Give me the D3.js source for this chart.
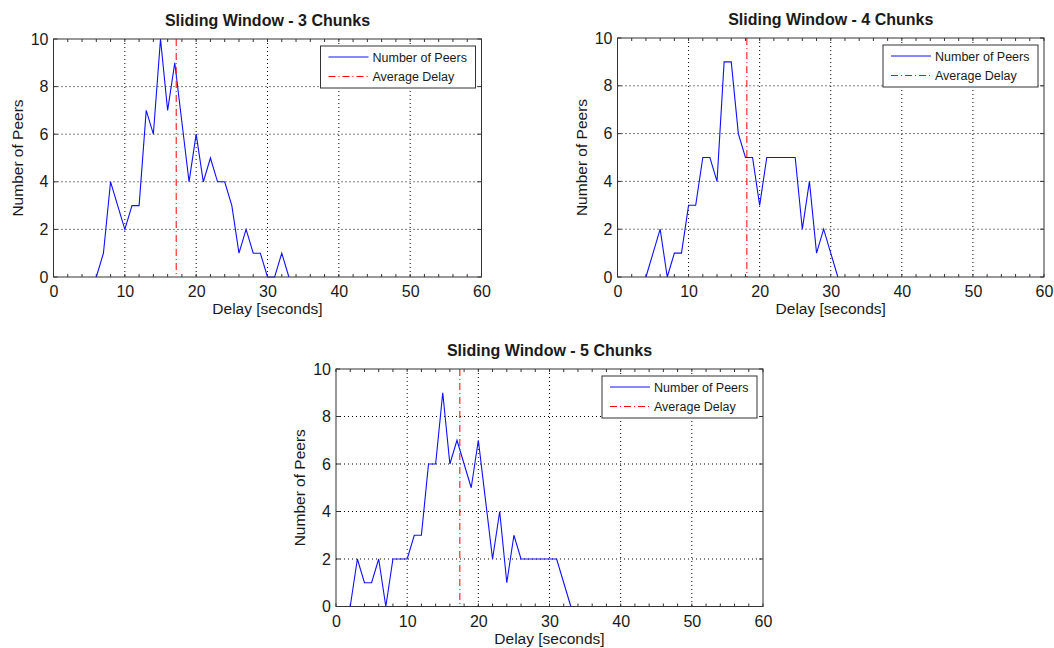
<!DOCTYPE html>
<html>
<head>
<meta charset="utf-8">
<script src="https://cdn.jsdelivr.net/npm/d3@7"></script>
<style>
  body { margin: 0; background: #fff; }
  text { font-family: "Liberation Sans", Arial, sans-serif; fill: #1a1a1a; }
</style>
</head>
<body>
<div id="chart"></div>
<script>
// data
const delay3 = [6,7,8,9,10,11,12,13,14,15,16,17,18,19,20,21,22,23,24,25,26,27,28,29,30,31,32,33];
const peers3 = [0,1,4,3,2,3,3,7,6,10,7,9,6.5,4,6,4,5,4,4,3,1,2,1,1,0,0,1,0];
const avg3 = 17.2;

const delay4 = [4,5,6,7,8,9,10,11,12,13,14,15,16,17,18,19,20,21,22,23,24,25,26,27,28,29,30,31];
const peers4 = [0,1,2,0,1,1,3,3,5,5,4,9,9,6,5,5,3,5,5,5,5,5,2,4,1,2,1,0];
const avg4 = 18.2;

const delay5 = [2,3,4,5,6,7,8,9,10,11,12,13,14,15,16,17,18,19,20,21,22,23,24,25,26,27,28,29,30,31,32,33];
const peers5 = [0,2,1,1,2,0,2,2,2,3,3,6,6,9,6,7,6,5,7,4.5,2,4,1,3,2,2,2,2,2,2,1,0];
const avg5 = 17.4;

const xTicks = [0,10,20,30,40,50,60];
const yTicks = [0,2,4,6,8,10];
const legendLabels = ["Number of Peers", "Average Delay"];

const svg = d3.select("#chart").append("svg")
    .attr("width", 1054)
    .attr("height", 648);

function panel(box, title, xs, ys, avg) {
  const width = box.right - box.left,
      height = box.bottom - box.top;
  const g = svg.append("g")
      .attr("transform", "translate(" + box.left + "," + box.top + ")");

  const x = d3.scaleLinear().domain([0, 60]).range([0, width]);
  const y = d3.scaleLinear().domain([0, 10]).range([height, 0]);

  // dotted grid
  g.selectAll(null).data(xTicks.slice(1, -1)).enter().append("line")
      .attr("x1", d => x(d)).attr("x2", d => x(d))
      .attr("y1", 0).attr("y2", height)
      .attr("stroke", "#000").attr("stroke-dasharray", "1,3");
  g.selectAll(null).data(yTicks.slice(1, -1)).enter().append("line")
      .attr("y1", d => y(d)).attr("y2", d => y(d))
      .attr("x1", 0).attr("x2", width)
      .attr("stroke", "#000").attr("stroke-dasharray", "1,3");

  // inward ticks, minor every 2 s along x
  const minor = d3.range(0, 61, 2);
  [0, height].forEach(function(yy) {
    g.selectAll(null).data(minor).enter().append("line")
        .attr("x1", d => x(d)).attr("x2", d => x(d))
        .attr("y1", yy).attr("y2", yy === 0 ? 3 : height - 3)
        .attr("stroke", "#333");
  });
  [0, width].forEach(function(xx) {
    g.selectAll(null).data(yTicks).enter().append("line")
        .attr("y1", d => y(d)).attr("y2", d => y(d))
        .attr("x1", xx).attr("x2", xx === 0 ? 4 : width - 4)
        .attr("stroke", "#333");
  });

  // axes (labels only, frame drawn below)
  const xAxis = g.append("g")
      .attr("transform", "translate(0," + height + ")")
      .call(d3.axisBottom(x).tickValues(xTicks).tickSize(0).tickPadding(9));
  const yAxis = g.append("g")
      .call(d3.axisLeft(y).tickValues(yTicks).tickSize(0).tickPadding(5));
  [xAxis, yAxis].forEach(function(a) {
    a.select(".domain").remove();
    a.selectAll("text").attr("font-size", 16)
        .attr("font-family", "Liberation Sans, Arial, sans-serif").attr("fill", "#1a1a1a");
  });

  // data line
  const line = d3.line()
      .x(function(d, i) { return x(xs[i]); })
      .y(function(d) { return y(d); });
  g.append("path")
      .datum(ys)
      .attr("d", line)
      .attr("fill", "none")
      .attr("stroke", "#1010ff")
      .attr("stroke-width", 1.1);

  // average delay
  g.append("line")
      .attr("x1", x(avg)).attr("x2", x(avg))
      .attr("y1", 0).attr("y2", height)
      .attr("stroke", "#ff0000")
      .attr("stroke-dasharray", "7,3,1,3");

  // frame
  g.append("rect")
      .attr("width", width).attr("height", height)
      .attr("fill", "none").attr("stroke", "#333");

  // titles and labels
  g.append("text")
      .attr("x", width / 2).attr("y", -13)
      .attr("text-anchor", "middle")
      .attr("font-size", 16).attr("font-weight", "bold")
      .text(title);
  g.append("text")
      .attr("x", width / 2).attr("y", height + 37)
      .attr("text-anchor", "middle")
      .attr("font-size", 15.5)
      .text("Delay [seconds]");
  g.append("text")
      .attr("transform", "rotate(-90)")
      .attr("x", -height / 2).attr("y", -31)
      .attr("text-anchor", "middle")
      .attr("font-size", 15.5)
      .text("Number of Peers");

  // legend
  const lg = g.append("g")
      .attr("transform", "translate(" + (width - 161) + ",7)");
  lg.append("rect")
      .attr("width", 155).attr("height", 42)
      .attr("fill", "#fff").attr("stroke", "#333");
  lg.selectAll(null).data(legendLabels).enter().append("line")
      .attr("x1", 8).attr("x2", 48)
      .attr("y1", (d, i) => 11 + i * 19.5).attr("y2", (d, i) => 11 + i * 19.5)
      .attr("stroke", (d, i) => i === 0 ? "#1010ff" : "#ff0000")
      .attr("stroke-dasharray", (d, i) => i === 0 ? null : "7,3,1,3");
  lg.selectAll(null).data(legendLabels).enter().append("text")
      .attr("x", 52)
      .attr("y", (d, i) => 15.5 + i * 19.5)
      .attr("font-size", 12.5)
      .text(d => d);
}

panel({left: 53.5, right: 481.5, top: 39, bottom: 277}, "Sliding Window - 3 Chunks", delay3, peers3, avg3);
panel({left: 617.5, right: 1044, top: 38, bottom: 277}, "Sliding Window - 4 Chunks", delay4, peers4, avg4);
panel({left: 336, right: 763, top: 369, bottom: 606.5}, "Sliding Window - 5 Chunks", delay5, peers5, avg5);
</script>
</body>
</html>
